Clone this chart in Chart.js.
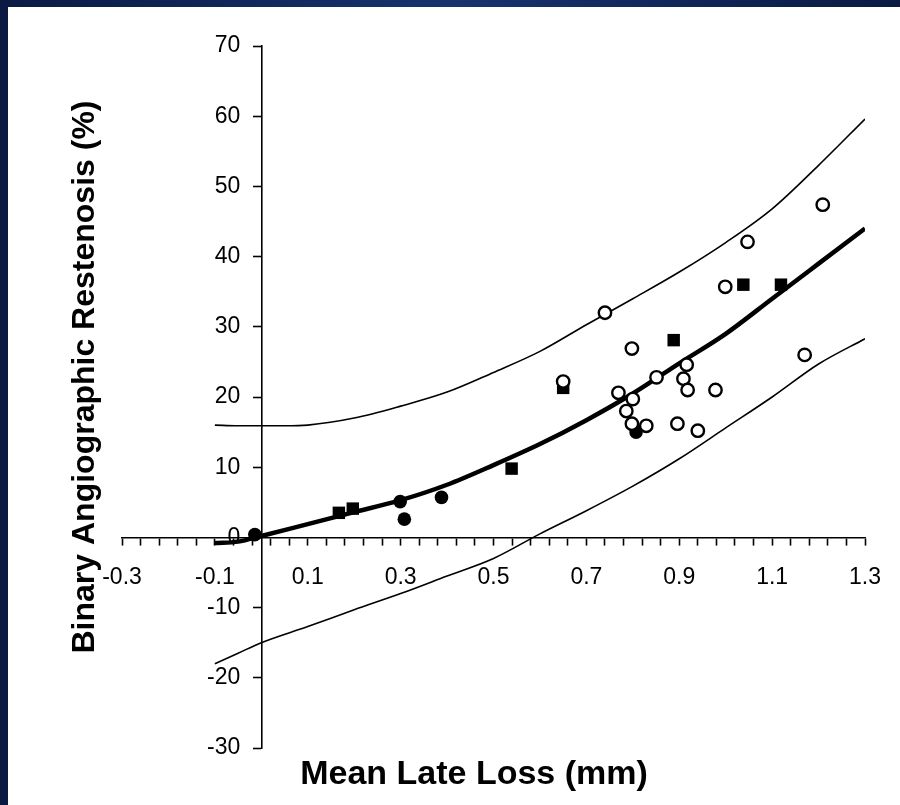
<!DOCTYPE html>
<html>
<head>
<meta charset="utf-8">
<script src="https://cdn.jsdelivr.net/npm/chart.js@4.4.1/dist/chart.umd.min.js"></script>
<style>
  html, body { margin: 0; padding: 0; width: 900px; height: 805px; overflow: hidden;
    background: linear-gradient(to right, #0a1a42, #17336f 50%, #0a1a42); }
  #wrap { position: absolute; left: 8px; top: 7px; width: 892px; height: 798px; background: #ffffff; }
  canvas { display: block; }
</style>
</head>
<body>
<div id="wrap"><canvas id="c" width="892" height="798"></canvas></div>
<script>
// ---- data ----
const xTickLabels = ['-0.3', '-0.1', '0.1', '0.3', '0.5', '0.7', '0.9', '1.1', '1.3'];
const yTickLabels = ['-30', '-20', '-10', '0', '10', '20', '30', '40', '50', '60', '70'];

const fitX   = [-0.1, -0.05, 0, 0.1, 0.2, 0.3, 0.4, 0.5, 0.6, 0.7, 0.8, 0.9, 1.0, 1.1, 1.2, 1.3];
const fitY   = [-0.8, -0.6, 0.2, 1.9, 3.6, 5.3, 7.5, 10.3, 13.3, 16.7, 20.5, 24.8, 29.0, 34.0, 39.0, 44.0];

const upperX = [-0.1, -0.05, 0, 0.05, 0.1, 0.2, 0.3, 0.4, 0.5, 0.6, 0.7, 0.8, 0.9, 1.0, 1.1, 1.2, 1.3];
const upperY = [16.0, 15.9, 15.9, 15.9, 16.0, 17.0, 18.7, 20.7, 23.5, 26.5, 30.3, 34.0, 37.8, 42.0, 46.8, 53.0, 59.6];

const lowerX = [-0.1, -0.05, 0, 0.1, 0.2, 0.3, 0.4, 0.5, 0.6, 0.7, 0.8, 0.9, 1.0, 1.1, 1.2, 1.3];
const lowerY = [-18.0, -16.5, -15.0, -12.7, -10.3, -8.0, -5.5, -3.0, 0.5, 3.8, 7.3, 11.2, 15.6, 20.0, 24.7, 28.3];

const openX = [0.65, 0.740, 0.798, 0.916, 0.851, 0.909, 0.769, 0.800, 0.918, 0.978, 0.786, 0.798, 0.829, 0.896, 0.940, 0.999, 1.047, 1.209, 1.170];
const openY = [22.2, 32.0, 26.9, 24.6, 22.8, 22.6, 20.6, 19.7, 21.0, 21.0, 18.0, 16.2, 15.9, 16.2, 15.2, 35.7, 42.1, 47.4, 26.0];

const squareX = [0.167, 0.197, 0.539, 0.650, 0.888, 1.038, 1.119];
const squareY = [3.5, 4.1, 9.8, 21.3, 28.1, 36.0, 36.0];

const dotX = [-0.014, 0.299, 0.308, 0.388, 0.807];
const dotY = [0.4, 5.1, 2.6, 5.7, 15.0];

const xTitle = 'Mean Late Loss (mm)';
const yTitle = 'Binary Angiographic Restenosis (%)';

// ---- helpers ----
const pts = (xs, ys) => xs.map((x, i) => ({ x: x, y: ys[i] }));
const xMinorTicks = [];
for (let i = 0; i <= 40; i++) xMinorTicks.push(+(-0.3 + i * 0.04).toFixed(2));

const FONT = "'Liberation Sans', Arial, sans-serif";

const titlePlugin = {
  id: 'axisTitles',
  afterDraw(chart) {
    const ctx = chart.ctx;
    ctx.save();
    ctx.fillStyle = '#000';
    ctx.textAlign = 'center';
    ctx.textBaseline = 'middle';
    ctx.font = 'bold 34px ' + FONT;
    ctx.fillText(xTitle, 466, 768);
    ctx.translate(77, 370);
    ctx.rotate(-Math.PI / 2);
    ctx.font = 'bold 32px ' + FONT;
    ctx.fillText(yTitle, 0, 0);
    ctx.restore();
  }
};

const lineDs = (label, xs, ys, w) => ({
  type: 'line', label: label, data: pts(xs, ys),
  borderColor: '#000', borderWidth: w, pointRadius: 0, fill: false,
  cubicInterpolationMode: 'monotone', order: 2
});

// shift the y-axis labels to the left of the centred axis
function shiftYLabels(s) {
  if (s.__patched) return;
  const orig = s._computeLabelItems;
  if (typeof orig !== 'function') return;
  s._computeLabelItems = function (ca) {
    const items = orig.call(this, ca);
    items.forEach(it => {
      const t = it.options && it.options.translation;
      if (t) it.options.translation = [t[0] - 21, t[1]];
    });
    return items;
  };
  s.__patched = true;
}

new Chart(document.getElementById('c'), {
  type: 'scatter',
  data: {
    datasets: [
      { label: 'open', data: pts(openX, openY), pointStyle: 'circle', pointRadius: 6.2,
        backgroundColor: '#fff', borderColor: '#000', borderWidth: 2.4, order: 0 },
      { label: 'square', data: pts(squareX, squareY), pointStyle: 'rect', pointRadius: 8.8,
        backgroundColor: '#000', borderColor: '#000', borderWidth: 0, order: 0 },
      { label: 'dot', data: pts(dotX, dotY), pointStyle: 'circle', pointRadius: 6.8,
        backgroundColor: '#000', borderColor: '#000', borderWidth: 0, order: 0 },
      lineDs('fit', fitX, fitY, 4.5),
      lineDs('upper', upperX, upperY, 1.6),
      lineDs('lower', lowerX, lowerY, 1.6)
    ]
  },
  options: {
    responsive: false,
    animation: false,
    layout: { padding: { left: 114, right: 22, top: 39, bottom: 57 } },
    plugins: { legend: { display: false }, tooltip: { enabled: false }, title: { display: false } },
    scales: {
      x: {
        type: 'linear', min: -0.3, max: 1.3,
        position: { y: 0 },
        afterFit(s) { s.height = 0; },
        afterBuildTicks(s) { s.ticks = xMinorTicks.map(v => ({ value: v })); },
        border: { display: true, color: '#000', width: 1.6 },
        grid: { drawOnChartArea: false, drawTicks: true, tickLength: 7, color: '#000', tickColor: '#000', tickWidth: 1.6 },
        ticks: {
          autoSkip: false, maxRotation: 0, minRotation: 0, padding: 19, color: '#000',
          font: { family: FONT, size: 23 },
          callback: (v, i) => (i % 5 === 0 ? xTickLabels[i / 5] : '')
        }
      },
      y: {
        type: 'linear', min: -30, max: 70,
        position: { x: 0 },
        afterFit(s) { s.width = 0; shiftYLabels(s); },
        border: { display: true, color: '#000', width: 1.6 },
        grid: { drawOnChartArea: false, drawTicks: true, tickLength: 8, color: '#000', tickColor: '#000', tickWidth: 1.6 },
        ticks: {
          stepSize: 10, padding: 14, color: '#000',
          font: { family: FONT, size: 23 },
          callback: (v, i) => yTickLabels[i]
        }
      }
    }
  },
  plugins: [titlePlugin]
});
</script>
</body>
</html>
